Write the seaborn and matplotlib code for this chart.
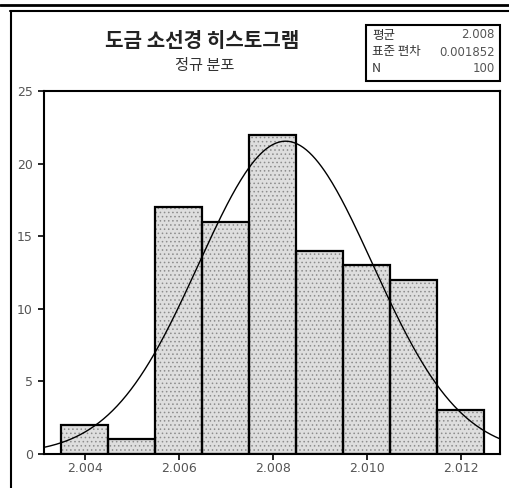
import numpy as np
import pandas as pd
import matplotlib
matplotlib.use("Agg")
import matplotlib.pyplot as plt
from matplotlib.lines import Line2D
import seaborn as sns

# ---- data ----
bin_centers = [2.004, 2.005, 2.006, 2.007, 2.008, 2.009, 2.010, 2.011, 2.012]
counts = [2, 1, 17, 16, 22, 14, 13, 12, 3]
bin_width = 0.001
x_ticks = [2.004, 2.006, 2.008, 2.010, 2.012]
y_ticks = [0, 5, 10, 15, 20, 25]
title = "도금 소선경 히스토그램"
subtitle = "정규 분포"
stat_labels = ["평균", "표준 편차", "N"]
stat_values = ["2.008", "0.001852", "100"]
std_dev = 0.001852
n_total = 100

sns.set_theme(style="white")
plt.rcParams["font.family"] = ["Noto Sans CJK KR", "DejaVu Sans"]
plt.rcParams["hatch.linewidth"] = 0.6

df = pd.DataFrame({"x": bin_centers, "count": counts})
edges = [float(c - bin_width / 2) for c in bin_centers] + [float(bin_centers[-1] + bin_width / 2)]

fig = plt.figure(figsize=(5.10, 4.88), dpi=100)
ax = fig.add_axes([0.0863, 0.0697, 0.8941, 0.7439])

# textured fill layer
sns.histplot(data=df, x="x", weights="count", bins=edges, ax=ax,
             color="#dedede", alpha=1, linewidth=0)
for p in ax.patches:
    p.set_hatch("....")
    p.set_edgecolor("#8c8c8c")
    p.set_linewidth(0)
# outline layer
sns.histplot(data=df, x="x", weights="count", bins=edges, ax=ax,
             fill=False, color="black", linewidth=1.6)

# fitted normal curve
mean = np.average(bin_centers, weights=counts)
xl = (2.00313, 2.01283)
xs = np.linspace(xl[0], xl[1], 300)
ys = n_total * bin_width * np.exp(-0.5 * ((xs - mean) / std_dev) ** 2) / (std_dev * np.sqrt(2 * np.pi))
sns.lineplot(x=xs, y=ys, ax=ax, color="black", linewidth=1.0)

ax.set_xlim(*xl)
ax.set_ylim(0, 25)
ax.set_xticks(x_ticks)
ax.set_xticklabels([f"{t:.3f}" for t in x_ticks])
ax.set_yticks(y_ticks)
ax.set_xlabel("")
ax.set_ylabel("")
for s in ax.spines.values():
    s.set_visible(True)
    s.set_color("black")
    s.set_linewidth(1.5)
ax.tick_params(axis="both", which="both", direction="out", length=4, width=1.2,
               color="black", labelsize=9, labelcolor="#555555", pad=4,
               bottom=True, left=True)
ax.tick_params(axis="x", pad=2)
for lbl in ax.get_xticklabels() + ax.get_yticklabels():
    lbl.set_fontfamily("DejaVu Sans")

# titles
fig.text(0.397, 0.918, title, ha="center", va="center", fontsize=14.5,
         fontweight="bold", color="#222222")
fig.text(0.402, 0.865, subtitle, ha="center", va="center", fontsize=11,
         color="#333333")

# stats box
bx0, by0, bw, bh = 366 / 510, 1 - 81 / 488, 134 / 510, 56 / 488
fig.add_artist(plt.Rectangle((bx0, by0), bw, bh, transform=fig.transFigure,
                             fill=False, edgecolor="black", linewidth=1.5))
row_y = [35, 52, 69]
for lab, val, ry in zip(stat_labels, stat_values, row_y):
    fy = 1 - ry / 488
    fig.text(372 / 510, fy, lab, ha="left", va="center", fontsize=9, color="#333333")
    fig.text(495 / 510, fy, val, ha="right", va="center", fontsize=8.5,
             color="#555555", family="DejaVu Sans")

# outer frame
fig.add_artist(Line2D([0, 1], [1 - 5 / 488] * 2, transform=fig.transFigure,
                      color="black", linewidth=2.0))
fig.add_artist(Line2D([10 / 510, 1], [1 - 10.5 / 488] * 2, transform=fig.transFigure,
                      color="black", linewidth=1.5))
fig.add_artist(Line2D([11 / 510] * 2, [0, 1 - 10.5 / 488], transform=fig.transFigure,
                      color="black", linewidth=1.5))

fig.savefig("out.png", dpi=100)
